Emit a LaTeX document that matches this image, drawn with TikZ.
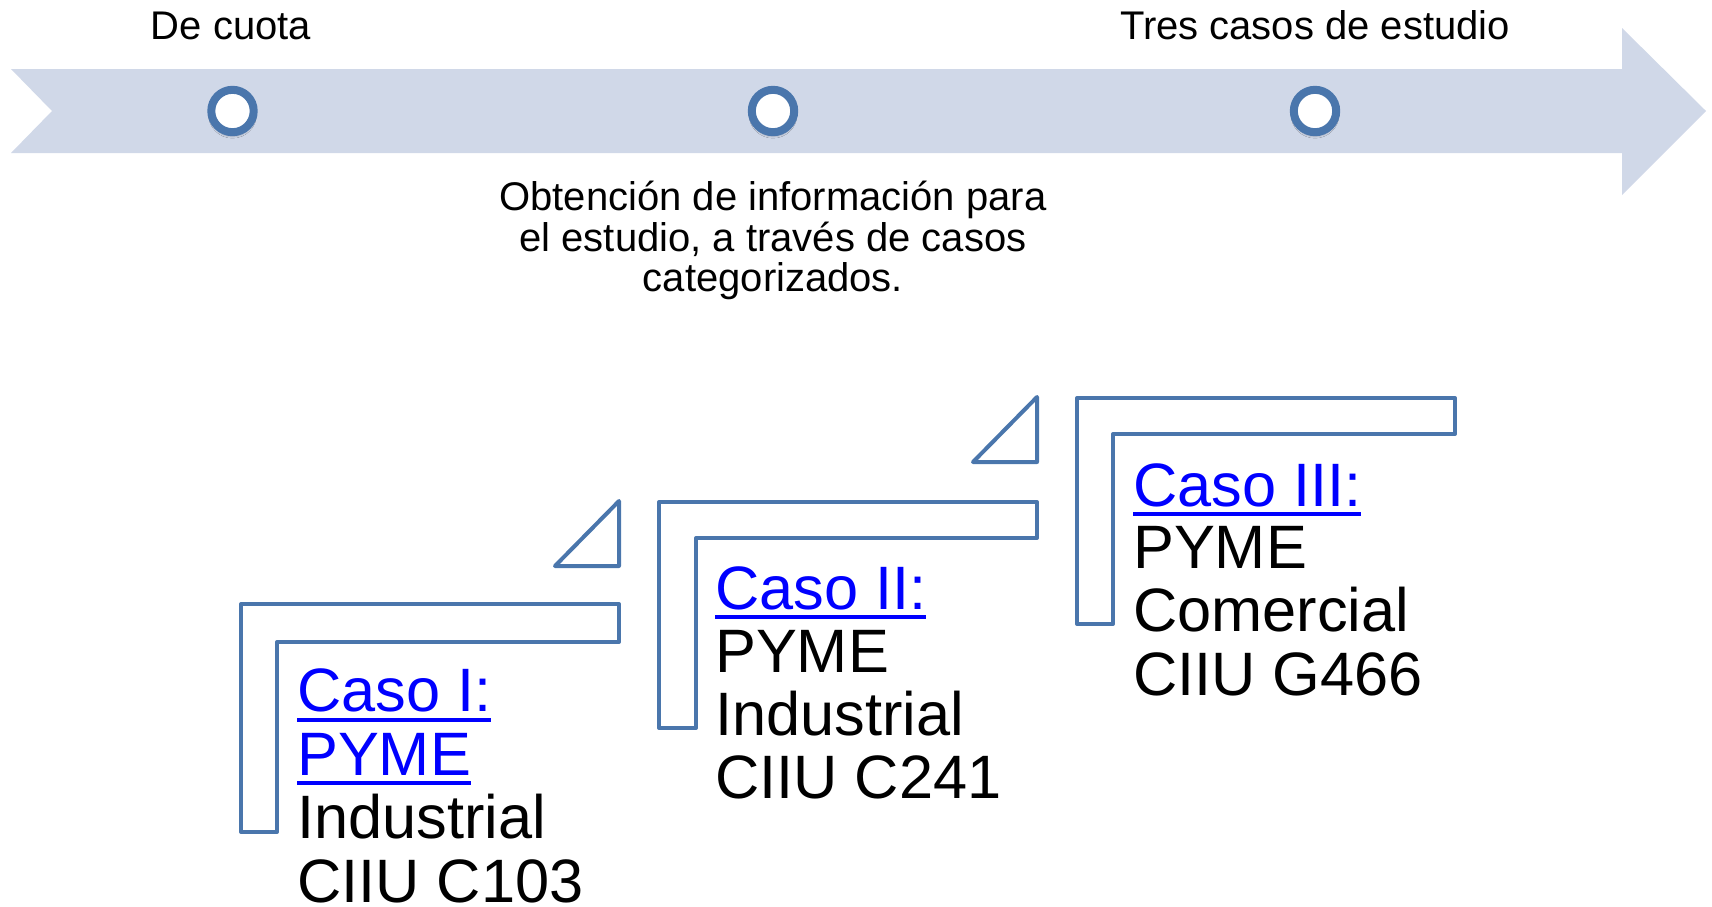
\documentclass[tikz,border=0pt]{standalone}
\usepackage{fontspec}
\setmainfont{Liberation Sans}
\usetikzlibrary{shadows.blur}
\definecolor{band}{HTML}{D0D8E8}
\definecolor{ring}{HTML}{4A76AC}
\definecolor{lnk}{HTML}{0000FF}
\newcommand\lnkul[1]{\setbox0\hbox{#1}\rlap{\color{lnk}\rule[-10pt]{\wd0}{4pt}}\box0}
\tikzset{
  dot/.style={circle, draw=ring, fill=white, line width=8pt, minimum size=42.4pt, inner sep=0pt,
    blur shadow={shadow xshift=0pt, shadow yshift=-3pt, shadow blur radius=3pt, shadow opacity=45}},
  toplbl/.style={anchor=base, inner sep=0pt, font=\fontsize{40}{40}\selectfont},
  midlbl/.style={anchor=base, inner sep=0pt, font=\fontsize{40}{40}\selectfont},
  lshape/.style={draw=ring, line width=4pt, line join=round},
  caselbl/.style={anchor=base west, inner sep=0pt, font=\fontsize{61.3}{63}\selectfont},
  linklbl/.style={caselbl, text=lnk},
}
\begin{document}
\begin{tikzpicture}[x=1pt, y=-1pt]
\useasboundingbox (0,0) rectangle (1712,906);
% timeline band arrow
\fill[band] (11,69) -- (1622,69) -- (1622,28) -- (1706,111) -- (1622,195) -- (1622,153) -- (11,153) -- (52,111) -- cycle;
% dots
\node[dot] (d1) at (232.5,111) {};
\node[dot] (d2) at (773,111) {};
\node[dot] (d3) at (1315,111) {};
% labels
\node[toplbl] (t1) at (231,39) {De cuota};
\node[toplbl] (t3) at (1315,39) {Tres casos de estudio};
\node[midlbl] (m1) at (773,210.3) {Obtención de información para};
\node[midlbl] (m2) at (773,251) {el estudio, a través de casos};
\node[midlbl] (m3) at (773,291.7) {categorizados.};
% L shapes
\draw[lshape] (241,604) -- (619,604) -- (619,642) -- (277,642) -- (277,832) -- (241,832) -- cycle;
\draw[lshape] (659,502) -- (1037,502) -- (1037,538) -- (696,538) -- (696,728) -- (659,728) -- cycle;
\draw[lshape] (1077,398) -- (1455,398) -- (1455,434) -- (1113,434) -- (1113,624) -- (1077,624) -- cycle;
% triangles
\draw[lshape] (619,501) -- (619,566) -- (555,566) -- cycle;
\draw[lshape] (1037,397) -- (1037,462) -- (973,462) -- cycle;
% case 1
\node[linklbl] (a1) at (297,711.7) {\lnkul{Caso I:}};
\node[linklbl] (a2) at (297,775) {\lnkul{PYME}};
\node[caselbl] (a3) at (297,838.5) {Industrial};
\node[caselbl] (a4) at (297,902) {CIIU C103};
% case 2
\node[linklbl] (b1) at (715,609.3) {\lnkul{Caso II:}};
\node[caselbl] (b2) at (715,672) {PYME};
\node[caselbl] (b3) at (715,735) {Industrial};
\node[caselbl] (b4) at (715,798) {CIIU C241};
% case 3
\node[linklbl] (c1) at (1133,506) {\lnkul{Caso III:}};
\node[caselbl] (c2) at (1133,568.5) {PYME};
\node[caselbl] (c3) at (1133,631.7) {Comercial};
\node[caselbl] (c4) at (1133,695) {CIIU G466};
\end{tikzpicture}
\end{document}
